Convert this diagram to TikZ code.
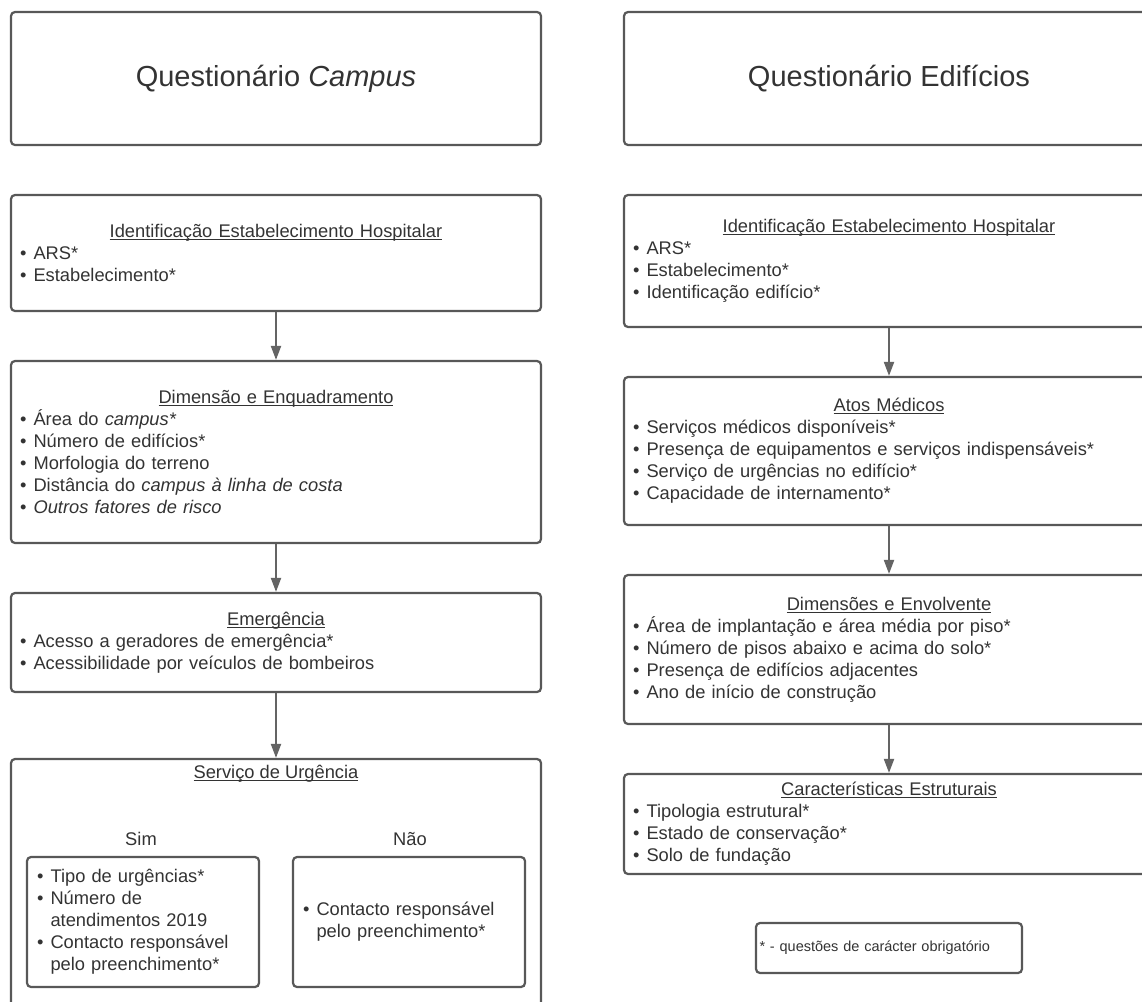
\documentclass[tikz,border=0pt]{standalone}
\usepackage{fontspec}
\setmainfont{Liberation Sans}
\usetikzlibrary{arrows.meta}
\definecolor{bordc}{RGB}{88,88,88}
\definecolor{arrc}{RGB}{100,100,100}
\definecolor{txtc}{RGB}{51,51,51}
\newcommand\myul[1]{\setbox0\hbox{#1}\rlap{\rule[-2.6pt]{\wd0}{1.1pt}}\box0}
\newcommand\hd[1]{\makebox[\linewidth][c]{\myul{#1}}}
\newcommand\bl{\makebox[0.74em][l]{•}}
\newcommand\ind{\hspace*{0.74em}}
\tikzset{
  box/.style={draw=bordc, line width=2.2pt, rounded corners=4pt, fill=white, inner sep=0pt, text=txtc},
  body/.style={font=\fontsize{18.3}{22}\selectfont, text width=#1, align=left},
  ttl/.style={font=\fontsize{29}{34}\selectfont},
  lbl/.style={font=\fontsize{18.3}{22}\selectfont, text=txtc, inner sep=0pt},
  arr/.style={draw=arrc, line width=2pt, -{Triangle[length=14pt,width=10pt]}},
}
\begin{document}
\begin{tikzpicture}[x=1pt,y=-1pt]
\clip (0,0) rectangle (1142,1001);
\fill[white] (0,0) rectangle (1142,1001);
% left column
\node[box, ttl, minimum width=530pt, minimum height=133pt] (LT) at (276,78.5) {Questionário \textit{Campus}};
\node[box, body=512pt, minimum width=530pt, minimum height=116pt] (L2) at (276,253)
 {\hd{Identificação Estabelecimento Hospitalar}\\ \bl ARS*\\ \bl Estabelecimento*};
\node[box, body=512pt, minimum width=530pt, minimum height=182pt] (L3) at (276,452)
 {\hd{Dimensão e Enquadramento}\\ \bl Área do \textit{campus*}\\ \bl Número de edifícios*\\ \bl Morfologia do terreno\\ \bl Distância do \textit{campus à linha de costa}\\ \bl \textit{Outros fatores de risco}};
\node[box, body=512pt, minimum width=530pt, minimum height=99pt] (L4) at (276,642.5)
 {\hd{Emergência}\\ \bl Acesso a geradores de emergência*\\ \bl Acessibilidade por veículos de bombeiros};
\node[box, minimum width=530pt, minimum height=252pt] (L5) at (276,885) {};
\node[lbl, anchor=base] (L5h) at (276,778) {\myul{Serviço de Urgência}};
\node[lbl, anchor=base] (sim) at (141,845) {Sim};
\node[lbl, anchor=base] (nao) at (410,845) {Não};
\node[box, body=212pt, minimum width=232pt, minimum height=130pt] (simb) at (143,922)
 {\bl Tipo de urgências*\\ \bl Número de\\ \ind atendimentos 2019\\ \bl Contacto responsável\\ \ind pelo preenchimento*};
\node[box, body=212pt, minimum width=232pt, minimum height=130pt] (naob) at (409,922)
 {\bl Contacto responsável\\ \ind pelo preenchimento*};
% right column
\node[box, ttl, minimum width=530pt, minimum height=133pt] (RT) at (889,78.5) {Questionário Edifícios};
\node[box, body=512pt, minimum width=530pt, minimum height=132pt] (R2) at (889,261)
 {\hd{Identificação Estabelecimento Hospitalar}\\ \bl ARS*\\ \bl Estabelecimento*\\ \bl Identificação edifício*};
\node[box, body=512pt, minimum width=530pt, minimum height=148pt] (R3) at (889,451)
 {\hd{Atos Médicos}\\ \bl Serviços médicos disponíveis*\\ \bl Presença de equipamentos e serviços indispensáveis*\\ \bl Serviço de urgências no edifício*\\ \bl Capacidade de internamento*};
\node[box, body=512pt, minimum width=530pt, minimum height=149pt] (R4) at (889,649.5)
 {\hd{Dimensões e Envolvente}\\ \bl Área de implantação e área média por piso*\\ \bl Número de pisos abaixo e acima do solo*\\ \bl Presença de edifícios adjacentes\\ \bl Ano de início de construção};
\node[box, body=512pt, minimum width=530pt, minimum height=100pt] (R5) at (889,824)
 {\hd{Características Estruturais}\\ \bl Tipologia estrutural*\\ \bl Estado de conservação*\\ \bl Solo de fundação};
\node[box, font=\fontsize{14.5}{17}\selectfont, text width=259pt, align=left, minimum width=266pt, minimum height=50pt] (leg) at (889,948)
 {* - questões de carácter obrigatório};
% connectors
\draw[arr] (L2.south) -- (L3.north);
\draw[arr] (L3.south) -- (L4.north);
\draw[arr] (L4.south) -- (L5.north);
\draw[arr] (R2.south) -- (R3.north);
\draw[arr] (R3.south) -- (R4.north);
\draw[arr] (R4.south) -- (R5.north);
\end{tikzpicture}
\end{document}
